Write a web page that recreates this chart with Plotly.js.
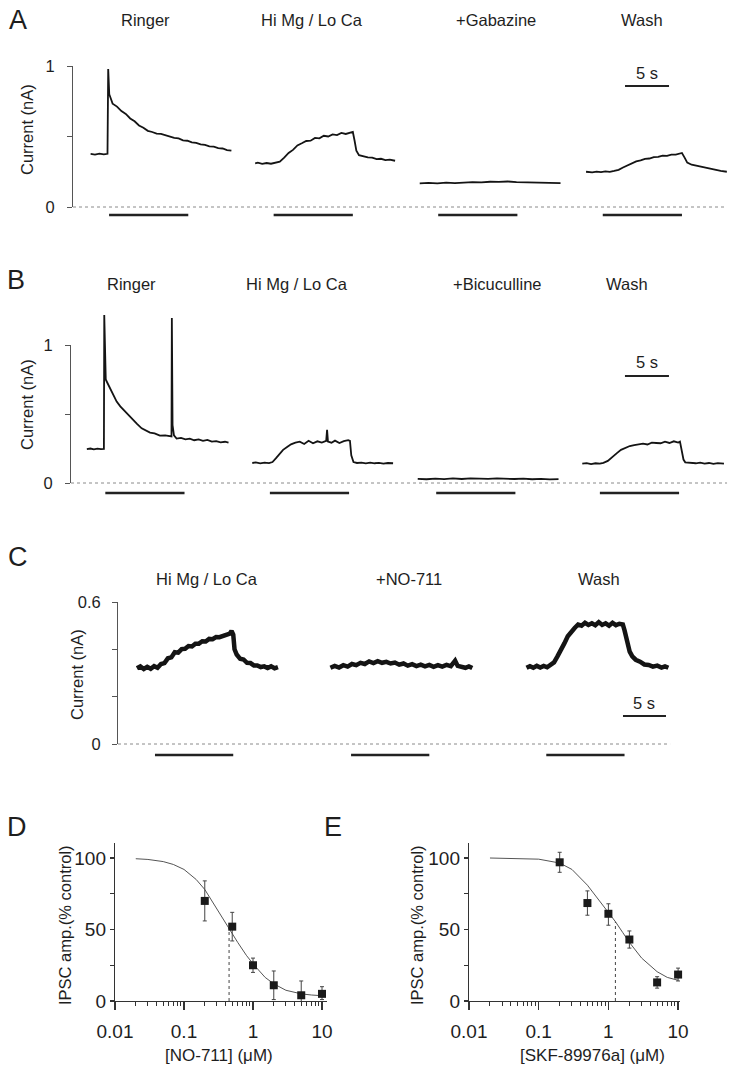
<!DOCTYPE html>
<html>
<head>
<meta charset="utf-8">
<script src="https://cdn.plot.ly/plotly-3.0.1.min.js"></script>
<style>html,body{margin:0;padding:0;background:#fff;}#chart{width:737px;height:1073px;}</style>
</head>
<body>
<div id="chart"></div>
<script>
// ---------------- DATA ----------------
// Panel A (time in s, current in nA)
const aRingT = [2.0,2.5,3.0,3.5,3.92,4.0,4.12,4.3,4.5,5.0,5.5,6.0,6.5,7.0,7.5,8.0,8.5,9.0,9.5,10.0,10.5,11.0,11.5,12.0,12.5,13.0,13.5,14.0,14.5,15.0,15.5,16.0,16.5,17.0,17.5,18.0];
const aRingI = [0.376,0.372,0.379,0.373,0.377,0.979,0.80,0.76,0.733,0.712,0.68,0.66,0.628,0.608,0.578,0.562,0.54,0.532,0.52,0.518,0.508,0.503,0.49,0.486,0.473,0.47,0.458,0.455,0.444,0.44,0.43,0.428,0.418,0.415,0.404,0.40];
const aHiT = [20.7,21.0,21.5,22.0,22.5,23.0,23.5,24.0,24.5,25.0,25.5,26.0,26.5,27.0,27.5,28.0,28.5,29.0,29.5,30.0,30.5,31.0,31.5,31.8,32.0,32.2,32.5,33.0,33.5,34.0,34.5,35.0,35.5,36.0,36.6];
const aHiI = [0.31,0.314,0.306,0.312,0.307,0.313,0.322,0.35,0.383,0.405,0.437,0.452,0.468,0.47,0.49,0.487,0.505,0.5,0.515,0.51,0.525,0.518,0.53,0.532,0.47,0.40,0.368,0.36,0.352,0.35,0.34,0.342,0.333,0.336,0.328];
const aGabT = [39.4,40.4,41.4,42.4,43.4,44.4,45.4,46.4,47.4,48.4,49.4,50.4,51.4,52.4,53.4,54.4,55.4];
const aGabI = [0.168,0.171,0.168,0.173,0.17,0.175,0.176,0.174,0.179,0.178,0.181,0.177,0.176,0.171,0.17,0.172,0.169];
const aWashT = [58.3,59.0,59.5,60.0,60.5,61.0,61.5,62.0,62.5,63.0,63.5,64.0,64.5,65.0,65.5,66.0,66.5,67.0,67.5,68.0,68.5,69.0,69.2,69.5,69.8,70.3,71.0,71.7,72.4,73.0,73.6,74.3];
const aWashI = [0.25,0.246,0.251,0.247,0.252,0.249,0.256,0.264,0.28,0.296,0.31,0.323,0.331,0.342,0.344,0.354,0.355,0.364,0.363,0.372,0.371,0.379,0.383,0.35,0.315,0.30,0.29,0.283,0.272,0.266,0.256,0.25];
const aBarStart = [4.1,22.8,41.5,60.2];
const aBarDur = 9.0;
const aLabels = ['Ringer','Hi Mg / Lo Ca','+Gabazine','Wash'];

// Panel B
const bRingT = [1.8,2.2,2.6,3.0,3.4,3.74,3.78,3.84,3.95,4.1,4.43,4.8,5.19,5.6,6.14,6.6,7.08,7.5,8.03,8.5,8.98,9.5,10.1,10.7,11.25,11.42,11.46,11.54,11.7,12.0,12.5,13.0,13.5,14.0,14.5,15.0,15.5,16.0,16.5,17.0,17.5,17.9];
const bRingI = [0.246,0.25,0.244,0.249,0.245,0.247,1.217,0.90,0.75,0.73,0.686,0.64,0.59,0.555,0.517,0.49,0.457,0.428,0.396,0.383,0.365,0.36,0.343,0.345,0.336,0.338,1.196,0.42,0.345,0.322,0.327,0.316,0.322,0.31,0.316,0.305,0.312,0.30,0.304,0.295,0.299,0.292];
const bHiT = [20.6,21.0,21.5,22.0,22.5,22.9,23.3,23.7,24.1,24.6,25.0,25.5,26.0,26.5,27.0,27.5,28.0,28.5,29.0,29.1,29.2,29.6,30.0,30.5,31.0,31.5,31.7,31.85,32.1,32.5,33.0,33.5,34.0,34.5,35.0,35.5,36.0,36.6];
const bHiI = [0.145,0.149,0.142,0.148,0.144,0.152,0.18,0.21,0.24,0.262,0.28,0.292,0.30,0.283,0.306,0.288,0.302,0.293,0.305,0.385,0.30,0.292,0.307,0.29,0.303,0.31,0.305,0.2,0.152,0.145,0.148,0.142,0.147,0.143,0.146,0.141,0.145,0.143];
const bBicT = [39.4,40.4,41.4,42.4,43.4,44.4,45.4,46.4,47.4,48.4,49.4,50.4,51.4,52.4,53.4,54.4,55.4];
const bBicI = [0.03,0.027,0.032,0.028,0.033,0.029,0.034,0.031,0.03,0.033,0.03,0.029,0.031,0.027,0.03,0.026,0.028];
const bWashT = [58.1,58.6,59.1,59.6,60.1,60.5,61.0,61.5,62.0,62.5,63.0,63.5,64.0,64.5,65.0,65.5,66.0,66.5,67.0,67.5,68.0,68.5,69.0,69.2,69.4,69.6,69.8,70.3,71.0,71.5,72.0,72.5,73.0,73.5,74.2];
const bWashI = [0.14,0.144,0.137,0.143,0.14,0.146,0.16,0.19,0.215,0.24,0.255,0.268,0.275,0.28,0.285,0.279,0.292,0.29,0.288,0.3,0.29,0.302,0.293,0.30,0.24,0.17,0.15,0.145,0.143,0.147,0.14,0.145,0.139,0.144,0.141];
const bBarStart = [3.9,22.6,41.5,60.1];
const bBarDur = 9.0;
const bLabels = ['Ringer','Hi Mg / Lo Ca','+Bicuculline','Wash'];

// Panel C
const cHiT = [2.2,2.6,3.0,3.4,3.8,4.2,4.6,5.0,5.4,5.8,6.2,6.6,7.0,7.4,7.8,8.2,8.6,9.0,9.4,9.8,10.2,10.6,11.0,11.4,11.8,12.2,12.6,13.0,13.2,13.4,13.55,13.8,14.2,14.6,15.0,15.4,15.8,16.2,16.6,17.0,17.4,17.8,18.2,18.6];
const cHiI = [0.32,0.328,0.317,0.326,0.318,0.329,0.322,0.338,0.342,0.362,0.366,0.388,0.386,0.401,0.402,0.414,0.412,0.424,0.424,0.434,0.433,0.444,0.443,0.452,0.451,0.457,0.458,0.466,0.478,0.462,0.40,0.378,0.36,0.357,0.343,0.342,0.332,0.332,0.325,0.328,0.321,0.328,0.32,0.325];
const cNoT = [24.7,25.2,25.7,26.2,26.7,27.2,27.7,28.2,28.7,29.2,29.7,30.2,30.7,31.2,31.7,32.2,32.7,33.2,33.7,34.2,34.7,35.2,35.7,36.2,36.7,37.2,37.7,38.2,38.7,39.2,39.5,39.9,40.4,40.8,41.2];
const cNoI = [0.322,0.33,0.323,0.333,0.327,0.338,0.333,0.343,0.338,0.349,0.342,0.35,0.343,0.347,0.34,0.344,0.335,0.34,0.331,0.337,0.329,0.335,0.328,0.334,0.326,0.333,0.327,0.334,0.329,0.352,0.33,0.328,0.322,0.328,0.321];
const cWashT = [47.5,47.9,48.3,48.7,49.1,49.5,49.9,50.3,50.7,51.1,51.5,51.9,52.3,52.7,53.1,53.5,53.9,54.3,54.7,55.1,55.5,55.9,56.3,56.7,57.1,57.5,57.9,58.3,58.7,58.9,59.2,59.5,59.8,60.2,60.7,61.2,61.7,62.2,62.7,63.2,63.6,64.0];
const cWashI = [0.322,0.329,0.322,0.33,0.323,0.33,0.324,0.332,0.345,0.37,0.395,0.425,0.455,0.475,0.49,0.505,0.5,0.512,0.503,0.51,0.502,0.515,0.503,0.51,0.5,0.512,0.502,0.508,0.505,0.48,0.43,0.39,0.37,0.356,0.348,0.336,0.334,0.327,0.331,0.323,0.328,0.322];
const cBarStart = [4.3,27.1,49.8];
const cBarDur = 9.1;
const cLabels = ['Hi Mg / Lo Ca','+NO-711','Wash'];

// Panel D (NO-711)
const dConc = [0.2,0.5,1,2,5,10];
const dAmp = [70,52,25,11,4,5];
const dErrUp = [14,10,5,10,10,5];
const dErrDn = [14,10,5,10,10,4];
const dFitX = [0.02,0.03,0.05,0.07,0.1,0.15,0.2,0.3,0.45,0.6,0.8,1,1.5,2,3,5,7,10];
const dFitY = [99.5,99,97.5,95.5,92,85,78,64,51,41,32,26,16.5,12,7.5,5,4.2,3.7];
const dIC50 = 0.45, dIC50Amp = 51;

// Panel E (SKF-89976a)
const eConc = [0.2,0.5,1,2,5,10];
const eAmp = [97,68.5,61,43,13,18.5];
const eErrUp = [7,8.5,7,6,4,4.5];
const eErrDn = [7,8.5,8,6,4,4.5];
const eFitX = [0.02,0.05,0.1,0.2,0.3,0.5,0.7,1,1.26,1.6,2,3,5,7,10];
const eFitY = [100,99.8,99.2,96.5,92,81,72,62,55.5,48,41,30,20.5,16.5,14.5];
const eIC50 = 1.26, eIC50Amp = 55.5;

const doseTickVals = [0.01,0.1,1,10];
const doseTickText = ['0.01','0.1','1','10'];
const doseMinor = [0.02,0.03,0.04,0.05,0.06,0.07,0.08,0.09,0.2,0.3,0.4,0.5,0.6,0.7,0.8,0.9,2,3,4,5,6,7,8,9];

// ---------------- LAYOUT HELPERS ----------------
const W = 737, H = 1073;
const FONT = 'Liberation Sans, Arial, Helvetica, sans-serif';
const TXT = '#1e1e1e';
const dom = (p0, p1) => [p0 / W, p1 / W];
const vdom = (pb, pt) => [1 - pb / H, 1 - pt / H];
function dataX(px0, pps, pl, pr) { return {domain: dom(pl, pr), range: [(pl - px0) / pps, (pr - px0) / pps], visible: false, fixedrange: true}; }
function dataY(py0, ppu, pb, pt) { return {domain: vdom(pb, pt), range: [(py0 - pb) / ppu, (py0 - pt) / ppu], visible: false, fixedrange: true}; }
function ann(text, px, py, size, extra) {
  return Object.assign({text: text, x: px / W, y: 1 - py / H, xref: 'paper', yref: 'paper', showarrow: false,
    xanchor: 'center', yanchor: 'middle', font: {family: FONT, size: size, color: TXT}}, extra || {});
}
function frameY(pb, pt, rng, tv, tt, standoff) {
  return {domain: vdom(pb, pt), range: rng, showline: true, linecolor: '#555', linewidth: 1,
    ticks: 'outside', ticklen: 5, tickcolor: '#555', tickwidth: 1, tickvals: tv, ticktext: tt,
    tickfont: {family: FONT, size: 16.5, color: TXT}, showgrid: false, zeroline: false, ticklabelstandoff: standoff, fixedrange: true};
}

const traces = [];
function line(x, y, xa, ya, w, color, dash) {
  traces.push({x: x, y: y, xaxis: xa, yaxis: ya, mode: 'lines', type: 'scatter', hoverinfo: 'skip', showlegend: false,
    line: {color: color || '#141414', width: w, dash: dash || 'solid'}});
}
function emptyTrace(xa, ya) { traces.push({x: [], y: [], xaxis: xa, yaxis: ya, type: 'scatter', mode: 'lines', showlegend: false, hoverinfo: 'skip'}); }

// ---------- Panel A ----------
emptyTrace('x', 'y');
const A = {px0: 73, pps: 8.8, py0: 207, ppu: 141};
const aBarY = (A.py0 - 215) / A.ppu;
line([0, 74.3], [0, 0], 'x2', 'y2', 1, '#8a8a8a', 'dot');
[[aRingT, aRingI], [aHiT, aHiI], [aGabT, aGabI], [aWashT, aWashI]].forEach(p => line(p[0], p[1], 'x2', 'y2', 1.8));
aBarStart.forEach(s => line([s, s + aBarDur], [aBarY, aBarY], 'x2', 'y2', 2.4, '#222'));
line([62.73, 62.73 + 5], [(A.py0 - 86) / A.ppu, (A.py0 - 86) / A.ppu], 'x2', 'y2', 2, '#222');

// ---------- Panel B ----------
emptyTrace('x3', 'y3');
const B = {px0: 71, pps: 8.8, py0: 483, ppu: 138};
const bBarY = (B.py0 - 493) / B.ppu;
line([0, 74.55], [0, 0], 'x4', 'y4', 1, '#8a8a8a', 'dot');
[[bRingT, bRingI], [bHiT, bHiI], [bBicT, bBicI], [bWashT, bWashI]].forEach(p => line(p[0], p[1], 'x4', 'y4', 1.8));
bBarStart.forEach(s => line([s, s + bBarDur], [bBarY, bBarY], 'x4', 'y4', 2.4, '#222'));
line([62.95, 62.95 + 5], [(B.py0 - 376) / B.ppu, (B.py0 - 376) / B.ppu], 'x4', 'y4', 2, '#222');

// ---------- Panel C ----------
emptyTrace('x5', 'y5');
const C = {px0: 118, pps: 8.6, py0: 744, ppu: 236.7};
const cBarY = (C.py0 - 755) / C.ppu;
line([0, 64.2], [0, 0], 'x6', 'y6', 1, '#8a8a8a', 'dot');
[[cHiT, cHiI], [cNoT, cNoI], [cWashT, cWashI]].forEach(p => line(p[0], p[1], 'x6', 'y6', 4.5));
cBarStart.forEach(s => line([s, s + cBarDur], [cBarY, cBarY], 'x6', 'y6', 2.4, '#222'));
line([58.72, 58.72 + 5], [(C.py0 - 716) / C.ppu, (C.py0 - 716) / C.ppu], 'x6', 'y6', 2, '#222');

// ---------- Panels D, E ----------
function dosePanel(xa, ya, conc, amp, up, dn, fx, fy, ic, icAmp) {
  line(fx, fy, xa, ya, 1, '#555');
  line([ic, ic], [0, icAmp], xa, ya, 1, '#444', 'dot');
  traces.push({x: conc, y: amp, xaxis: xa, yaxis: ya, type: 'scatter', mode: 'markers', showlegend: false, hoverinfo: 'skip',
    cliponaxis: false,
    marker: {symbol: 'square', size: 8, color: '#1a1a1a'},
    error_y: {type: 'data', symmetric: false, array: up, arrayminus: dn, color: '#444', thickness: 1, width: 2}});
}
dosePanel('x7', 'y7', dConc, dAmp, dErrUp, dErrDn, dFitX, dFitY, dIC50, dIC50Amp);
dosePanel('x8', 'y8', eConc, eAmp, eErrUp, eErrDn, eFitX, eFitY, eIC50, eIC50Amp);

function doseX(pl, pr, decadePx, anchor) {
  return {type: 'log', domain: dom(pl, pr), range: [-2, -2 + (pr - pl) / decadePx], anchor: anchor,
    showline: true, linecolor: '#333', linewidth: 1.2, ticks: 'outside', ticklen: 8, tickcolor: '#333', tickwidth: 1.2,
    tickvals: doseTickVals, ticktext: doseTickText, tickfont: {family: FONT, size: 19, color: TXT},
    minor: {ticks: 'outside', ticklen: 4, tickcolor: '#333', tickwidth: 1, tickmode: 'array', tickvals: doseMinor},
    showgrid: false, zeroline: false, ticklabelstandoff: 5, fixedrange: true};
}
function doseY(anchor) {
  return {domain: vdom(1001, 843), range: [0, 110.5], anchor: anchor,
    showline: true, linecolor: '#333', linewidth: 1.2, ticks: 'outside', ticklen: 4, tickcolor: '#333', tickwidth: 1.2,
    tickvals: [0, 25, 50, 75, 100], ticktext: ['0', '', '50', '', '100'], tickfont: {family: FONT, size: 19, color: TXT},
    showgrid: false, zeroline: false, fixedrange: true};
}

const annotations = [];
// panel letters
[['A', 18, 20], ['B', 16, 280], ['C', 18, 557], ['D', 17, 827], ['E', 333, 827]].forEach(l => annotations.push(ann(l[0], l[1], l[2], 27)));
// condition labels
[[145, 20], [312, 20], [496, 20], [642, 20]].forEach((p, i) => annotations.push(ann(aLabels[i], p[0], p[1], 16.5)));
[[131, 284], [297, 284], [497, 284], [627, 284]].forEach((p, i) => annotations.push(ann(bLabels[i], p[0], p[1], 16.5)));
[[207, 579], [409, 579], [599, 579]].forEach((p, i) => annotations.push(ann(cLabels[i], p[0], p[1], 16.5)));
// scale bar labels
annotations.push(ann('5 s', 647, 73, 16.5));
annotations.push(ann('5 s', 647, 362, 16.5));
annotations.push(ann('5 s', 644, 703, 16.5));
// y titles
annotations.push(ann('Current (nA)', 27, 130, 16.5, {textangle: -90}));
annotations.push(ann('Current (nA)', 27, 405, 16.5, {textangle: -90}));
annotations.push(ann('Current (nA)', 77, 675, 16.5, {textangle: -90}));
annotations.push(ann('IPSC amp.(% control)', 65, 925, 16.5, {textangle: -90}));
annotations.push(ann('IPSC amp.(% control)', 417, 925, 16.5, {textangle: -90}));
annotations.push(ann('[NO-711] (\u03bcM)', 219, 1055, 17));
annotations.push(ann('[SKF-89976a] (\u03bcM)', 592, 1055, 17));

const layout = {
  width: W, height: H, margin: {l: 0, r: 0, t: 0, b: 0, pad: 0},
  paper_bgcolor: '#ffffff', plot_bgcolor: 'rgba(0,0,0,0)', showlegend: false,
  font: {family: FONT, color: TXT},
  // A
  xaxis: {domain: dom(73, 737), range: [0, 1], visible: false, anchor: 'y', fixedrange: true},
  yaxis: Object.assign(frameY(207, 66, [0, 1], [0, 0.5, 1], ['0', '', '1'], 9), {anchor: 'x'}),
  xaxis2: Object.assign(dataX(A.px0, A.pps, 73, 737), {anchor: 'y2'}),
  yaxis2: Object.assign(dataY(A.py0, A.ppu, 228, 40), {anchor: 'x2'}),
  // B
  xaxis3: {domain: dom(71, 737), range: [0, 1], visible: false, anchor: 'y3', fixedrange: true},
  yaxis3: Object.assign(frameY(483, 345, [0, 1], [0, 0.5, 1], ['0', '', '1'], 9), {anchor: 'x3'}),
  xaxis4: Object.assign(dataX(B.px0, B.pps, 71, 737), {anchor: 'y4'}),
  yaxis4: Object.assign(dataY(B.py0, B.ppu, 505, 300), {anchor: 'x4'}),
  // C
  xaxis5: {domain: dom(118, 737), range: [0, 1], visible: false, anchor: 'y5', fixedrange: true},
  yaxis5: Object.assign(frameY(744, 602, [0, 0.6], [0, 0.2, 0.4, 0.6], ['0', '', '', '0.6'], 8), {anchor: 'x5'}),
  xaxis6: Object.assign(dataX(C.px0, C.pps, 118, 737), {anchor: 'y6'}),
  yaxis6: Object.assign(dataY(C.py0, C.ppu, 768, 590), {anchor: 'x6'}),
  // D, E
  xaxis7: doseX(115, 327, 69, 'y7'),
  yaxis7: doseY('x7'),
  xaxis8: doseX(469, 680, 69.7, 'y8'),
  yaxis8: doseY('x8'),
  annotations: annotations
};

Plotly.newPlot('chart', traces, layout, {staticPlot: true, displayModeBar: false});
</script>
</body>
</html>
